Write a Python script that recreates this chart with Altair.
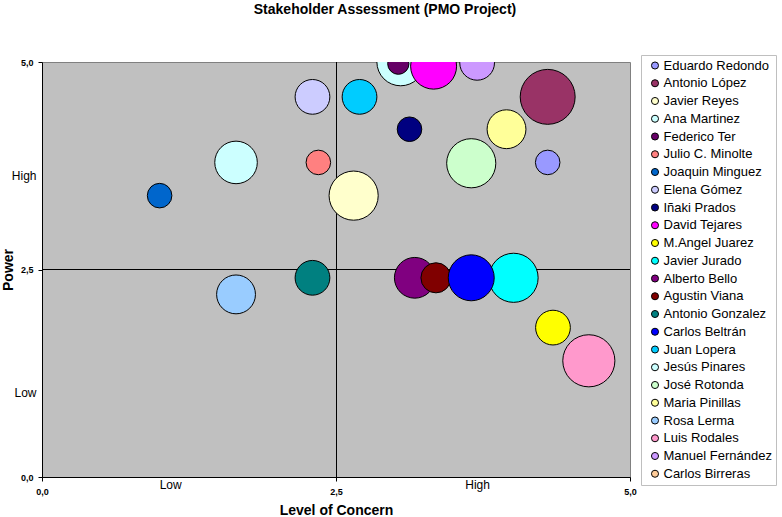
import altair as alt
import pandas as pd

names = ["Eduardo Redondo", "Antonio López", "Javier Reyes", "Ana Martinez", "Federico Ter",
         "Julio C. Minolte", "Joaquin Minguez", "Elena Gómez", "Iñaki Prados", "David Tejares",
         "M.Angel Juarez", "Javier Jurado", "Alberto Bello", "Agustin Viana", "Antonio Gonzalez",
         "Carlos Beltrán", "Juan Lopera", "Jesús Pinares", "José Rotonda", "Maria Pinillas",
         "Rosa Lerma", "Luis Rodales", "Manuel Fernández", "Carlos Birreras"]
colors = ["#9999FF", "#993366", "#FFFFCC", "#CCFFFF", "#660066", "#FF8080", "#0066CC", "#CCCCFF",
          "#000080", "#FF00FF", "#FFFF00", "#00FFFF", "#800080", "#800000", "#008080", "#0000FF",
          "#00CCFF", "#CCFFFF", "#CCFFCC", "#FFFF99", "#99CCFF", "#FF99CC", "#CC99FF", "#FFCC99"]
concern = [4.30, 4.30, 2.65, 1.65, 3.03, 2.35, 1.00, 2.30, 3.125, 3.33, 4.345, 4.01, 3.17, 3.35,
           2.30, 3.65, 2.70, 3.05, 3.65, 3.95, 1.65, 4.65, 3.70, None]
power = [3.79, 4.58, 3.39, 3.79, 4.98, 3.79, 3.39, 4.58, 4.19, 4.95, 1.80, 2.40, 2.40, 2.40,
         2.40, 2.40, 4.58, 5.00, 3.78, 4.19, 2.20, 1.40, 4.99, None]
influence = [2, 10, 8, 6, 1.5, 2, 2, 4, 2, 7, 4, 8, 5.5, 3, 4, 7, 4, 7.5, 8, 5, 5, 9, 4, None]
draw_rank = [3, 4, 5, 6, 7, 8, 9, 10, 11, 12, 13, 14, 15, 16, 17, 18, 19, 1, 20, 21, 22, 23, 2, 24]

midpoint = 2.5
y_ticks = [0, 2.5, 5]
x_ticks = [0, 2.5, 5]
y_word_pos = [1.02, 3.63]   # Low, High
x_word_pos = [1.09, 3.70]   # Low, High

df = pd.DataFrame({"Stakeholder": names, "Concern": concern, "Power": power,
                   "Influence": influence, "rank": draw_rank})

FONT = "Arial, Liberation Sans"

def label_expr(words):
    lo, hi = words
    return (f"datum.value == {lo} ? 'Low' : datum.value == {hi} ? 'High' : "
            "replace(format(datum.value, '.1f'), '.', ',')")

def is_word(words):
    lo, hi = words
    return f"datum.value == {lo} || datum.value == {hi}"

x_axis = alt.Axis(
    values=sorted(x_ticks + x_word_pos), labelExpr=label_expr(x_word_pos),
    title="Level of Concern", titleFont=FONT, titleFontSize=14, titleFontWeight="bold",
    titleColor="black", titleBaseline="alphabetic", titleY=37, titleX=294, titleAlign="center",
    labelFont=FONT, labelColor="black",
    labelFontSize={"condition": {"test": is_word(x_word_pos), "value": 12}, "value": 9},
    labelFontWeight={"condition": {"test": is_word(x_word_pos), "value": "normal"}, "value": "bold"},
    labelPadding={"condition": {"test": is_word(x_word_pos), "value": -1.5}, "value": 6},
    tickOpacity={"condition": {"test": is_word(x_word_pos), "value": 0}, "value": 1},
    tickSize=4, tickColor="black", domainColor="black", grid=False,
    labelFlush=False, labelOverlap=False, labelBound=False,
)
y_axis = alt.Axis(
    values=sorted(y_ticks + y_word_pos), labelExpr=label_expr(y_word_pos),
    title="Power", titleFont=FONT, titleFontSize=14, titleFontWeight="bold",
    titleColor="black", titleAngle=270, titleBaseline="alphabetic", titleAlign="center",
    titleX=-30, titleY=207.5,
    labelFont=FONT, labelColor="black",
    labelFontSize={"condition": {"test": is_word(y_word_pos), "value": 12}, "value": 9},
    labelFontWeight={"condition": {"test": is_word(y_word_pos), "value": "normal"}, "value": "bold"},
    labelPadding={"condition": {"test": is_word(y_word_pos), "value": 2}, "value": 5},
    tickOpacity={"condition": {"test": is_word(y_word_pos), "value": 0}, "value": 1},
    tickSize=4, tickColor="black", domainColor="black", grid=False,
    labelFlush=False, labelOverlap=False, labelBound=False,
)

xs = alt.Scale(domain=[0, 5], nice=False, zero=False)
ys = alt.Scale(domain=[0, 5], nice=False, zero=False)

vrule = alt.Chart().mark_rule(color="black", strokeWidth=1, xOffset=0.5).encode(
    x=alt.X(datum=midpoint, type="quantitative", scale=xs))
hrule = alt.Chart().mark_rule(color="black", strokeWidth=1).encode(
    y=alt.Y(datum=midpoint, type="quantitative", scale=ys))

bubbles = alt.Chart(df).mark_circle(opacity=1, stroke="black", strokeWidth=1, clip=True).encode(
    x=alt.X("Concern:Q", scale=xs, axis=x_axis),
    y=alt.Y("Power:Q", scale=ys, axis=y_axis),
    size=alt.Size("Influence:Q", scale=alt.Scale(domain=[0, 10], range=[0, 3019]), legend=None),
    color=alt.Color("Stakeholder:N", scale=alt.Scale(domain=names, range=colors),
                    legend=alt.Legend(
                        orient="none", legendX=599, legendY=-7, title=None, direction="vertical",
                        symbolType="circle", symbolSize=50, symbolStrokeColor="black",
                        symbolStrokeWidth=1, symbolOpacity=1, symbolOffset=3.5,
                        labelFont=FONT, labelFontSize=13, labelColor="black", labelOffset=2,
                        rowPadding=3.75, padding=4, strokeColor="#BFBFBF", fillColor="white",
                        labelLimit=200)),
    order=alt.Order("rank:Q"),
)

chart = alt.layer(vrule, hrule, bubbles).properties(
    width=588, height=415,
    padding={"left": 42, "top": 62, "right": 152, "bottom": 40},
    autosize=alt.AutoSizeParams(type="none"),
    title=alt.Title("Stakeholder Assessment (PMO Project)", font=FONT, fontSize=14,
                    fontWeight="bold", color="black", anchor="middle", frame="group",
                    dx=49, offset=27, baseline="alphabetic"),
    background="white",
).configure_view(fill="#C0C0C0", stroke="#808080", strokeWidth=1)

chart.save("out.html", embed_options={"renderer": "svg", "actions": False})
